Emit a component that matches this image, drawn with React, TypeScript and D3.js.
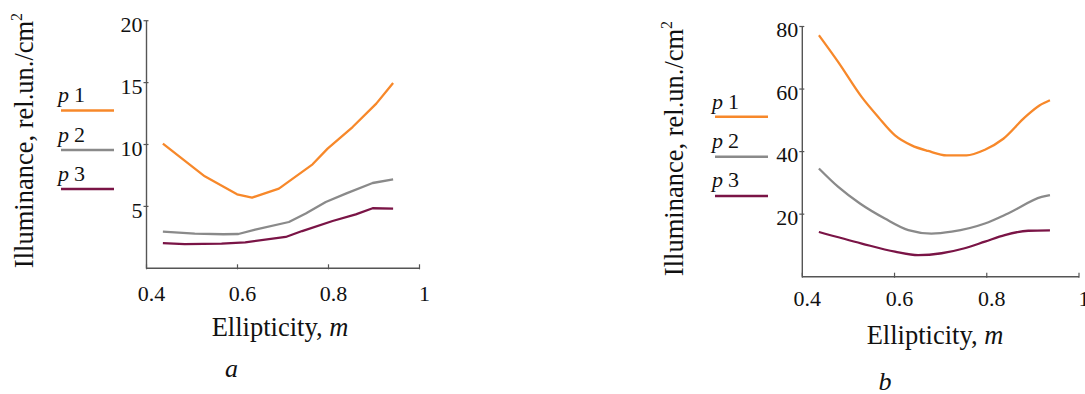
import React from "react";
import * as d3 from "d3";

// ---- Data ----
const seriesNames = ["1", "2", "3"];
const seriesColors = ["#f7882a", "#8a8a8a", "#7a1446"];

const xTicks = [0.4, 0.6, 0.8, 1];
const xTickLabels = ["0.4", "0.6", "0.8", "1"];

const aYTicks = [5, 10, 15, 20];
const bYTicks = [20, 40, 60, 80];

// Panel a
const aP1x = [0.436, 0.528, 0.599, 0.632, 0.691, 0.765, 0.798, 0.853, 0.905, 0.942];
const aP1y = [10.07, 7.43, 5.98, 5.71, 6.44, 8.4, 9.67, 11.41, 13.3, 14.97];
const aP2x = [0.436, 0.506, 0.569, 0.602, 0.639, 0.713, 0.75, 0.794, 0.838, 0.897, 0.942];
const aP2y = [2.96, 2.8, 2.75, 2.77, 3.13, 3.74, 4.42, 5.36, 6.03, 6.89, 7.19];
const aP3x = [0.436, 0.484, 0.565, 0.617, 0.706, 0.742, 0.809, 0.86, 0.897, 0.942];
const aP3y = [2.04, 1.96, 1.99, 2.1, 2.53, 3.01, 3.82, 4.36, 4.85, 4.82];

// Panel b
const bP1x = [0.436, 0.478, 0.529, 0.565, 0.601, 0.637, 0.673, 0.713, 0.756, 0.796, 0.836, 0.883, 0.915, 0.937];
const bP1y = [77.2, 68.6, 57.4, 51.0, 45.2, 42.0, 40.2, 38.8, 38.8, 40.6, 44.1, 51.0, 54.8, 56.4];
const bP2x = [0.436, 0.478, 0.525, 0.579, 0.63, 0.68, 0.724, 0.796, 0.846, 0.919, 0.937];
const bP2y = [34.6, 28.7, 23.4, 18.6, 14.9, 13.8, 14.4, 17.0, 20.2, 25.5, 26.1];
const bP3x = [0.436, 0.529, 0.601, 0.651, 0.702, 0.752, 0.796, 0.839, 0.89, 0.937];
const bP3y = [14.3, 10.6, 8.0, 6.9, 7.5, 9.1, 11.2, 13.3, 14.7, 14.8];

const FONT = "'Liberation Serif', 'Times New Roman', serif";
const AXIS_COLOR = "#555";

type PanelProps = {
  xRange: [number, number];
  yRange: [number, number];
  yMax: number;
  yTicks: number[];
  series: { x: number[]; y: number[] }[];
  yLabelDy: number;
  xLabelDy: number;
  legendTextX: number;
  legendLineX: [number, number];
  legendBaselines: number[];
  legendLineYs: number[];
  yTitle: [number, number];
  xTitle: [number, number];
  letter: string;
  letterPos: [number, number];
  curve: d3.CurveFactory;
};

function Panel(p: PanelProps) {
  const x = d3.scaleLinear().domain([0.4, 1]).range(p.xRange);
  const y = d3.scaleLinear().domain([0, p.yMax]).range(p.yRange);
  const x0 = x(0.4);
  const y0 = y(0);
  const line = d3
    .line<[number, number]>()
    .x((d) => x(d[0]))
    .y((d) => y(d[1]))
    .curve(p.curve);

  return (
    <g fontFamily={FONT} fill="#111">
      {/* axes */}
      <line x1={x0} x2={x0} y1={y(p.yMax)} y2={y0} stroke={AXIS_COLOR} strokeWidth={1.4} />
      <line x1={x0} x2={x(1)} y1={y0} y2={y0} stroke={AXIS_COLOR} strokeWidth={1.4} />
      {p.yTicks.map((t) => (
        <g key={"y" + t}>
          <line x1={x0 - 3} x2={x0 + 2} y1={y(t)} y2={y(t)} stroke={AXIS_COLOR} strokeWidth={1.2} />
          <text x={x0 - 4} y={y(t) + p.yLabelDy} textAnchor="end" fontSize={22}>
            {t}
          </text>
        </g>
      ))}
      {xTicks.map((t, i) => (
        <g key={"x" + t}>
          <line x1={x(t)} x2={x(t)} y1={y0 - 4} y2={y0 + 1} stroke={AXIS_COLOR} strokeWidth={1.2} />
          <text x={x(t) + 5} y={y0 + p.xLabelDy} textAnchor="middle" fontSize={22}>
            {xTickLabels[i]}
          </text>
        </g>
      ))}
      {/* series */}
      {p.series.map((s, i) => (
        <path
          key={"s" + i}
          d={line(s.x.map((v, j) => [v, s.y[j]] as [number, number])) || ""}
          fill="none"
          stroke={seriesColors[i]}
          strokeWidth={2.3}
          strokeLinejoin="round"
        />
      ))}
      {/* legend */}
      {seriesNames.map((n, i) => (
        <g key={"l" + i}>
          <text x={p.legendTextX} y={p.legendBaselines[i]} fontSize={22}>
            <tspan fontStyle="italic">p</tspan>
            <tspan dx={5}>{n}</tspan>
          </text>
          <line
            x1={p.legendLineX[0]}
            x2={p.legendLineX[1]}
            y1={p.legendLineYs[i]}
            y2={p.legendLineYs[i]}
            stroke={seriesColors[i]}
            strokeWidth={2.6}
          />
        </g>
      ))}
      {/* titles */}
      <text
        transform={`translate(${p.yTitle[0]},${p.yTitle[1]}) rotate(-90)`}
        textAnchor="middle"
        fontSize={26.5}
      >
        Illuminance, rel.un./cm
        <tspan fontSize={16} dy={-11}>
          2
        </tspan>
      </text>
      <text x={p.xTitle[0]} y={p.xTitle[1]} textAnchor="middle" fontSize={26.5}>
        Ellipticity, <tspan fontStyle="italic">m</tspan>
      </text>
      <text x={p.letterPos[0]} y={p.letterPos[1]} textAnchor="middle" fontSize={26} fontStyle="italic">
        {p.letter}
      </text>
    </g>
  );
}

export default function App() {
  return (
    <svg
      width={1085}
      height={394}
      style={{ position: "absolute", left: 0, top: 0, background: "#fff" }}
    >
      <rect width={1085} height={394} fill="#fff" />
      <Panel
        xRange={[146.5, 419.5]}
        yRange={[268.3, 20.7]}
        yMax={20}
        yTicks={aYTicks}
        series={[
          { x: aP1x, y: aP1y },
          { x: aP2x, y: aP2y },
          { x: aP3x, y: aP3y },
        ]}
        yLabelDy={11.5}
        xLabelDy={32.5}
        legendTextX={58}
        legendLineX={[61, 114]}
        legendBaselines={[102, 141.5, 181]}
        legendLineYs={[110.5, 150, 189]}
        yTitle={[33, 140.5]}
        xTitle={[280, 336]}
        letter="a"
        letterPos={[231.5, 377]}
        curve={d3.curveLinear}
      />
      <Panel
        xRange={[802.3, 1079]}
        yRange={[276.7, 26.5]}
        yMax={80}
        yTicks={bYTicks}
        series={[
          { x: bP1x, y: bP1y },
          { x: bP2x, y: bP2y },
          { x: bP3x, y: bP3y },
        ]}
        yLabelDy={10.5}
        xLabelDy={29.3}
        legendTextX={712}
        legendLineX={[715, 768]}
        legendBaselines={[109, 148, 187]}
        legendLineYs={[116.7, 156.7, 196]}
        yTitle={[683, 148.5]}
        xTitle={[935, 344]}
        letter="b"
        letterPos={[885, 390]}
        curve={d3.curveMonotoneX}
      />
    </svg>
  );
}
